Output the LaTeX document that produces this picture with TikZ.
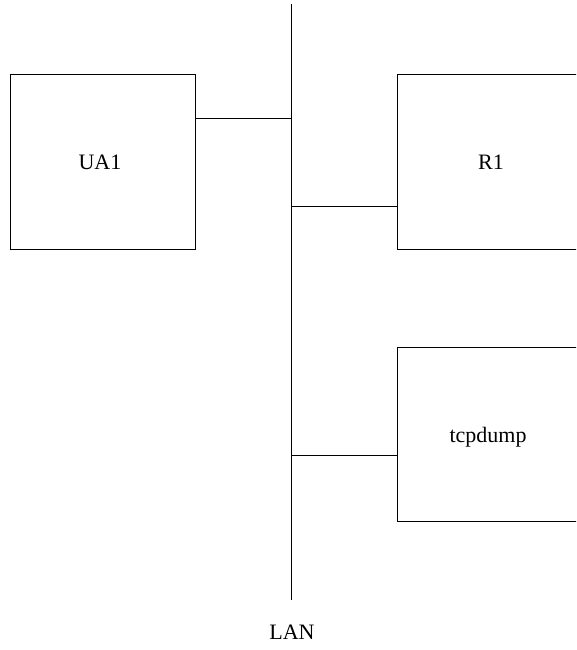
\documentclass[tikz,border=0pt]{standalone}
\usepackage{fontspec}
\setmainfont{Liberation Serif}
\begin{document}
\begin{tikzpicture}[x=1pt,y=-1pt,
  box/.style={draw,line width=0.8pt,inner sep=0pt},
  wire/.style={line width=0.8pt},
  lbl/.style={inner sep=0pt,font=\fontsize{22}{26}\selectfont}]
\useasboundingbox (0,0) rectangle (576,650);
\clip (0,0) rectangle (576,650);
\node[box,minimum width=185pt,minimum height=175pt] (ua1) at (102.5,161.5) {};
\node[box,minimum width=190pt,minimum height=175pt] (r1) at (492,161.5) {};
\node[box,minimum width=190pt,minimum height=174pt] (tcp) at (492,434) {};
\node[lbl] (ua1t) at (100,162) {UA1};
\node[lbl] (r1t) at (491,162) {R1};
\node[lbl] (tcpt) at (488,437) {tcpdump};
\coordinate (lantop) at (291,4);
\coordinate (lanbot) at (291,600);
\draw[wire] (lantop) -- (lanbot);
\node[lbl] (lan) at (292,632) {LAN};
\coordinate (j1) at (291,118);
\coordinate (j2) at (291,206);
\coordinate (j3) at (291,455);
\draw[wire] (j1) -- (ua1.east |- j1);
\draw[wire] (j2) -- (r1.west |- j2);
\draw[wire] (j3) -- (tcp.west |- j3);
\end{tikzpicture}
\end{document}
